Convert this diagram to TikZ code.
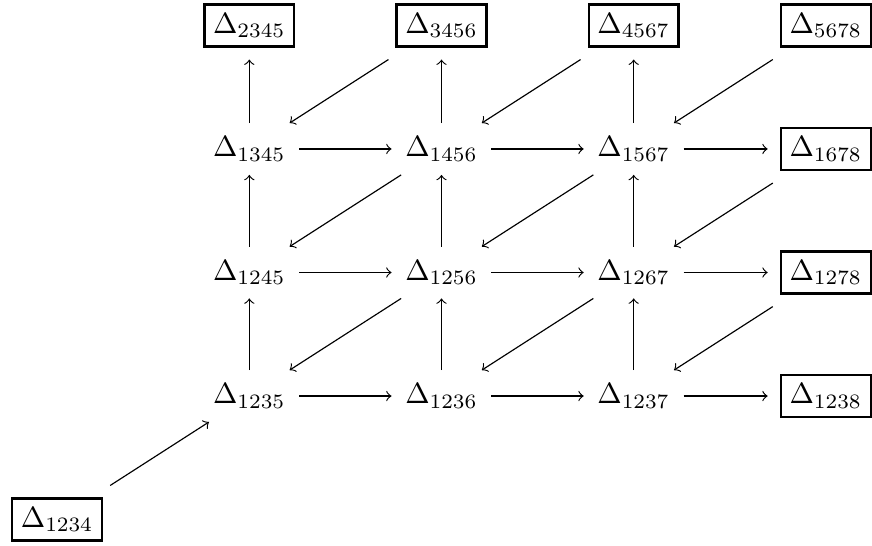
\documentclass[tikz,border=0pt]{standalone}
\usepackage{amsmath}
\usepackage{tikz}
\usetikzlibrary{positioning}
\usetikzlibrary{calc}
\tikzset{cell/.style={inner sep=4.5pt}}
\tikzset{boxcell/.style={draw, line width=0.8pt, inner sep=3pt, outer sep=4.5pt}}

\begin{document}
\begin{tikzpicture}[node distance=1.485cm and 2.31cm, on grid, >=to]
\node[boxcell] (d1234) {$\Delta_{1234}$};
\node[cell, above right=of d1234] (d1235) {$\Delta_{1235}$};
\node[cell, right=of d1235] (d1236) {$\Delta_{1236}$};
\node[cell, right=of d1236] (d1237) {$\Delta_{1237}$};
\node[boxcell, right=of d1237] (d1238) {$\Delta_{1238}$};
\node[cell, above=of d1235] (d1245) {$\Delta_{1245}$};
\node[cell, right=of d1245] (d1256) {$\Delta_{1256}$};
\node[cell, right=of d1256] (d1267) {$\Delta_{1267}$};
\node[boxcell, right=of d1267] (d1278) {$\Delta_{1278}$};
\node[cell, above=of d1245] (d1345) {$\Delta_{1345}$};
\node[cell, right=of d1345] (d1456) {$\Delta_{1456}$};
\node[cell, right=of d1456] (d1567) {$\Delta_{1567}$};
\node[boxcell, right=of d1567] (d1678) {$\Delta_{1678}$};
\node[boxcell, above=of d1345] (d2345) {$\Delta_{2345}$};
\node[boxcell, right=of d2345] (d3456) {$\Delta_{3456}$};
\node[boxcell, right=of d3456] (d4567) {$\Delta_{4567}$};
\node[boxcell, right=of d4567] (d5678) {$\Delta_{5678}$};

\useasboundingbox ($(d1234.center)+(-19.55pt,-8.9pt)$) rectangle ($(d5678.center)+(15pt,8.7pt)$);

% rows
\draw[->] (d1235) -- (d1236);
\draw[->] (d1236) -- (d1237);
\draw[->] (d1237) -- (d1238);
\draw[->] (d1245) -- (d1256);
\draw[->] (d1256) -- (d1267);
\draw[->] (d1267) -- (d1278);
\draw[->] (d1345) -- (d1456);
\draw[->] (d1456) -- (d1567);
\draw[->] (d1567) -- (d1678);

% columns
\draw[->] (d1235) -- (d1245);
\draw[->] (d1245) -- (d1345);
\draw[->] (d1345) -- (d2345);
\draw[->] (d1236) -- (d1256);
\draw[->] (d1256) -- (d1456);
\draw[->] (d1456) -- (d3456);
\draw[->] (d1237) -- (d1267);
\draw[->] (d1267) -- (d1567);
\draw[->] (d1567) -- (d4567);

% diagonals
\draw[->] (d1234) -- (d1235);
\draw[->] (d1256) -- (d1235);
\draw[->] (d1267) -- (d1236);
\draw[->] (d1278) -- (d1237);
\draw[->] (d1456) -- (d1245);
\draw[->] (d1567) -- (d1256);
\draw[->] (d1678) -- (d1267);
\draw[->] (d3456) -- (d1345);
\draw[->] (d4567) -- (d1456);
\draw[->] (d5678) -- (d1567);
\end{tikzpicture}
\end{document}
